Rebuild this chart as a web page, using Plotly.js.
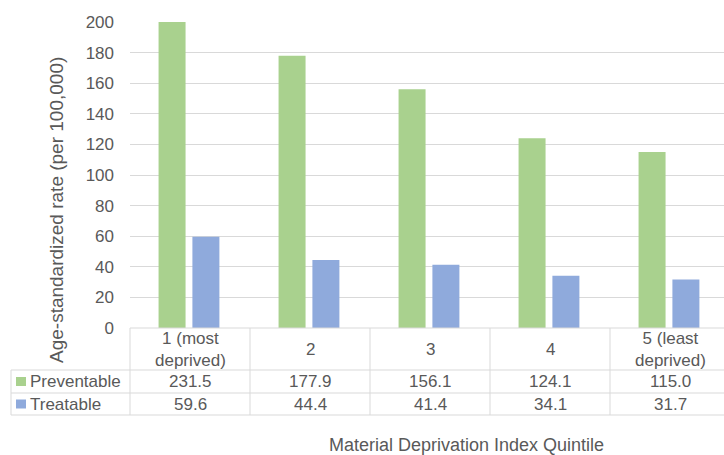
<!DOCTYPE html>
<html>
<head>
<meta charset="utf-8">
<script src="https://cdn.plot.ly/plotly-3.0.1.min.js"></script>
<style>
  html, body { margin: 0; padding: 0; overflow: hidden; background: #fff; }
  #chart { width: 730px; height: 455px; }
</style>
</head>
<body>
<div id="chart"></div>
<script>
// Quintile categories and the two rate series (per 100,000)
const quintiles = ["1 (most<br>deprived)", "2", "3", "4", "5 (least<br>deprived)"];
const preventable = [231.5, 177.9, 156.1, 124.1, 115.0];
const treatable = [59.6, 44.4, 41.4, 34.1, 31.7];
const seriesNames = ["Preventable", "Treatable"];
const yTicks = [0, 20, 40, 60, 80, 100, 120, 140, 160, 180, 200];

const GREEN = "#A9D18E";
const BLUE = "#8FAADC";
const TEXT = "#595959";
const GRID = "#D9D9D9";
const FONT = "Liberation Sans, Arial, sans-serif";

// Plot area geometry in pixels (used to place the data table under the axis)
const W = 730, H = 455;
const M = { l: 130, r: 0, t: 22, b: 127 };
const plotW = W - M.l - M.r;
const plotH = H - M.t - M.b;
const px = x => (x - M.l) / plotW;          // pixel x -> paper x
const py = y => (H - M.b - y) / plotH;      // pixel y -> paper y
const n = quintiles.length;
const colEdge = i => i / n;                 // paper x of category boundary i

// bar width and offsets in category units, with a small gap between the pair
const BAR_W = 0.225;
const traces = [
  { type: "bar", name: seriesNames[0], x: quintiles, y: preventable,
    width: BAR_W, offset: -0.262, marker: { color: GREEN }, hoverinfo: "x+y" },
  { type: "bar", name: seriesNames[1], x: quintiles, y: treatable,
    width: BAR_W, offset: 0.02, marker: { color: BLUE }, hoverinfo: "x+y" }
];

// Data table rows (pixel y)
const yTop = 328, yRow1 = 370, yRow2 = 393, yBottom = 415, xLeft = 11;
const lineStyle = { color: GRID, width: 1 };
const shapes = [];
const annotations = [];

// horizontal rules
shapes.push({ type: "line", xref: "paper", yref: "paper", x0: 0, x1: 1, y0: py(yTop), y1: py(yTop), line: lineStyle });
[yRow1, yRow2, yBottom].forEach(y => shapes.push({
  type: "line", xref: "paper", yref: "paper", x0: px(xLeft), x1: 1, y0: py(y), y1: py(y), line: lineStyle }));
// vertical rules
for (let i = 0; i <= n; i++) {
  shapes.push({ type: "line", xref: "paper", yref: "paper", x0: colEdge(i), x1: colEdge(i),
    y0: py(yTop), y1: py(yBottom), line: lineStyle });
}
shapes.push({ type: "line", xref: "paper", yref: "paper", x0: px(xLeft), x1: px(xLeft),
  y0: py(yRow1), y1: py(yBottom), line: lineStyle });

// legend keys in the row headers
const keyColors = [GREEN, BLUE];
const rowMid = [(yRow1 + yRow2) / 2, (yRow2 + yBottom) / 2];
keyColors.forEach((c, r) => {
  shapes.push({ type: "rect", xref: "paper", yref: "paper",
    x0: px(16), x1: px(26), y0: py(rowMid[r] - 4.5), y1: py(rowMid[r] + 4.5),
    line: { width: 0 }, fillcolor: c });
  annotations.push({ xref: "paper", yref: "paper", x: px(28), y: py(rowMid[r]),
    xanchor: "left", yanchor: "middle", showarrow: false, text: seriesNames[r],
    font: { family: FONT, size: 17, color: TEXT } });
});

// category labels and values
const rows = [preventable, treatable];
quintiles.forEach((q, i) => {
  const cx = (colEdge(i) + colEdge(i + 1)) / 2;
  annotations.push({ xref: "paper", yref: "paper", x: cx, y: py((yTop + yRow1) / 2),
    xanchor: "center", yanchor: "middle", showarrow: false, text: q,
    font: { family: FONT, size: 17, color: TEXT } });
  rows.forEach((vals, r) => annotations.push({ xref: "paper", yref: "paper", x: cx, y: py(rowMid[r]),
    xanchor: "center", yanchor: "middle", showarrow: false, text: vals[i].toFixed(1),
    font: { family: FONT, size: 17, color: TEXT } }));
});

// axis titles
annotations.push({ xref: "paper", yref: "paper", x: px(56), y: py(210), textangle: -90,
  xanchor: "center", yanchor: "middle", showarrow: false,
  text: "Age-standardized rate (per 100,000)", font: { family: FONT, size: 19, color: TEXT } });
annotations.push({ xref: "paper", yref: "paper", x: px(466), y: py(445),
  xanchor: "center", yanchor: "middle", showarrow: false,
  text: "Material Deprivation Index Quintile", font: { family: FONT, size: 18, color: TEXT } });

const layout = {
  width: W, height: H,
  margin: M,
  paper_bgcolor: "#fff", plot_bgcolor: "#fff",
  barmode: "group",
  showlegend: false,
  font: { family: FONT, color: TEXT },
  xaxis: { type: "category", showticklabels: false, showgrid: false, zeroline: false,
    showline: false, ticks: "", fixedrange: true },
  yaxis: { range: [0, 200], tickvals: yTicks, showgrid: true, gridcolor: GRID, gridwidth: 1,
    zeroline: false, showline: false, ticks: "", ticklabelstandoff: 15,
    tickfont: { family: FONT, size: 17, color: TEXT }, fixedrange: true },
  shapes: shapes,
  annotations: annotations
};

Plotly.newPlot("chart", traces, layout, { displayModeBar: false, staticPlot: true });
</script>
</body>
</html>
